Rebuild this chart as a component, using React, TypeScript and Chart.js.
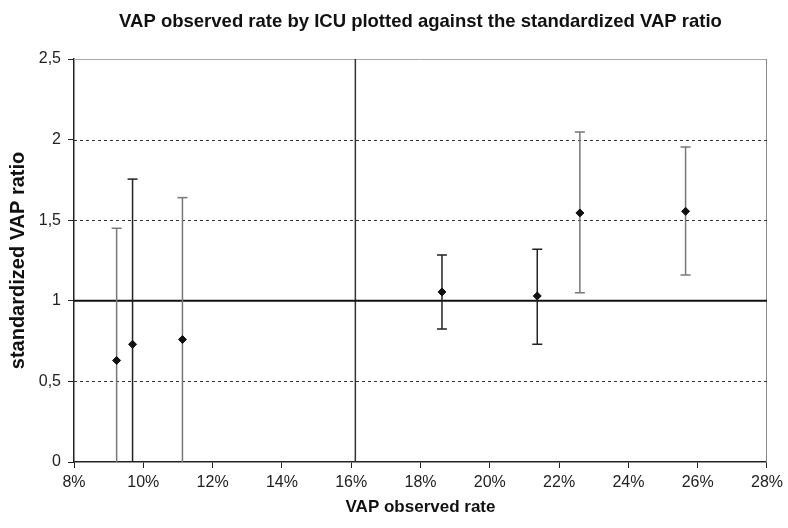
import React, { useEffect, useRef } from 'react';
import { Chart, registerables } from 'chart.js';

Chart.register(...registerables);

// VAP observed rate (%) per ICU
const observedRate = [9.23, 9.69, 11.13, 18.62, 21.37, 22.6, 25.65];
// standardized VAP ratio per ICU
const vapRatio = [0.63, 0.73, 0.76, 1.055, 1.03, 1.545, 1.555];
// confidence interval bounds
const ciUpper = [1.45, 1.755, 1.64, 1.284, 1.32, 2.047, 1.954];
const ciLower = [0, 0, 0, 0.825, 0.73, 1.05, 1.16];
// reference lines
const referenceRatio = 1;
const referenceRate = 16.12;
const dashedGridValues = [0.5, 1.5, 2];

const FONT = "'Liberation Sans', Arial, sans-serif";
const barShades = ['#777', '#222', '#777', '#222', '#222', '#777', '#777'];

const overlayPlugin = {
  id: 'overlay',
  beforeDatasetsDraw(chart: any) {
    const { ctx, chartArea, scales } = chart;
    const xs = scales.x;
    const ys = scales.y;
    ctx.save();
    ctx.strokeStyle = '#aaa';
    ctx.lineWidth = 1;
    ctx.beginPath();
    ctx.moveTo(chartArea.left, chartArea.top + 0.5);
    ctx.lineTo(chartArea.right, chartArea.top + 0.5);
    ctx.stroke();
    ctx.strokeStyle = '#888';
    ctx.beginPath();
    ctx.moveTo(chartArea.right - 0.5, chartArea.top);
    ctx.lineTo(chartArea.right - 0.5, chartArea.bottom);
    ctx.stroke();
    ctx.strokeStyle = '#333';
    ctx.setLineDash([3, 3]);
    dashedGridValues.forEach((v) => {
      const y = Math.round(ys.getPixelForValue(v)) + 0.5;
      ctx.beginPath();
      ctx.moveTo(chartArea.left, y);
      ctx.lineTo(chartArea.right, y);
      ctx.stroke();
    });
    ctx.setLineDash([]);
    const vx = xs.getPixelForValue(referenceRate);
    ctx.strokeStyle = '#333';
    ctx.lineWidth = 1.5;
    ctx.beginPath();
    ctx.moveTo(vx, chartArea.top);
    ctx.lineTo(vx, chartArea.bottom);
    ctx.stroke();
    const hy = ys.getPixelForValue(referenceRatio);
    ctx.strokeStyle = '#111';
    ctx.lineWidth = 2;
    ctx.beginPath();
    ctx.moveTo(chartArea.left, hy);
    ctx.lineTo(chartArea.right, hy);
    ctx.stroke();
    ctx.lineWidth = 1.5;
    observedRate.forEach((r, i) => {
      const x = xs.getPixelForValue(r);
      const yTop = ys.getPixelForValue(ciUpper[i]);
      const yBot = ys.getPixelForValue(ciLower[i]);
      ctx.strokeStyle = barShades[i];
      ctx.beginPath();
      ctx.moveTo(x, yTop);
      ctx.lineTo(x, yBot);
      ctx.stroke();
      ctx.beginPath();
      ctx.moveTo(x - 5, yTop);
      ctx.lineTo(x + 5, yTop);
      if (ciLower[i] > ys.min) {
        ctx.moveTo(x - 5, yBot);
        ctx.lineTo(x + 5, yBot);
      }
      ctx.stroke();
    });
    ctx.restore();
  },
};

export default function App() {
  const ref = useRef<HTMLCanvasElement>(null);
  useEffect(() => {
    if (!ref.current) return;
    const chart = new Chart(ref.current, {
      type: 'scatter',
      data: {
        datasets: [
          {
            label: 'ICU',
            data: observedRate.map((r, i) => ({ x: r, y: vapRatio[i] })),
            pointStyle: 'rectRot',
            pointRadius: 4,
            backgroundColor: '#111',
            borderColor: '#111',
            borderWidth: 1,
          },
        ],
      },
      options: {
        animation: false,
        responsive: false,
        layout: { padding: { left: 0, right: 16, top: 0, bottom: 0 } },
        plugins: {
          legend: { display: false },
          tooltip: { enabled: false },
          title: {
            display: true,
            fullSize: false,
            text: 'VAP observed rate by ICU plotted against the standardized VAP ratio',
            color: '#111',
            font: { family: FONT, size: 18.5, weight: 'bold' },
            padding: { top: 11, bottom: 25.8 },
          },
        },
        scales: {
          x: {
            type: 'linear',
            min: 8,
            max: 28,
            afterFit: (s: any) => {
              s.height = 66;
            },
            ticks: {
              stepSize: 2,
              color: '#222',
              font: { family: FONT, size: 16 },
              padding: 5,
              callback: (v: any) => `${v}%`,
            },
            grid: {
              drawOnChartArea: false,
              drawTicks: true,
              tickLength: 6,
              tickColor: '#222',
            },
            border: { color: '#222', width: 1.5 },
            title: {
              display: true,
              text: 'VAP observed rate',
              color: '#111',
              font: { family: FONT, size: 17, weight: 'bold' },
              padding: { top: 0, bottom: 10.8 },
            },
          },
          y: {
            type: 'linear',
            min: 0,
            max: 2.5,
            afterFit: (s: any) => {
              s.width = 74;
            },
            ticks: {
              stepSize: 0.5,
              color: '#222',
              font: { family: FONT, size: 16 },
              padding: 7,
              callback: (v: any) => String(v).replace('.', ','),
            },
            grid: {
              drawOnChartArea: false,
              drawTicks: true,
              tickLength: 6,
              tickColor: '#222',
            },
            border: { color: '#222', width: 1.5 },
            title: {
              display: true,
              text: 'standardized VAP ratio',
              color: '#111',
              font: { family: FONT, size: 20, weight: 'bold' },
              padding: { top: 6.5, bottom: 0 },
            },
          },
        },
      },
      plugins: [overlayPlugin],
    });
    return () => chart.destroy();
  }, []);
  return (
    <div style={{ position: 'fixed', left: 0, top: 0, width: 788, height: 528, background: '#fff' }}>
      <canvas ref={ref} width={788} height={528} />
    </div>
  );
}
